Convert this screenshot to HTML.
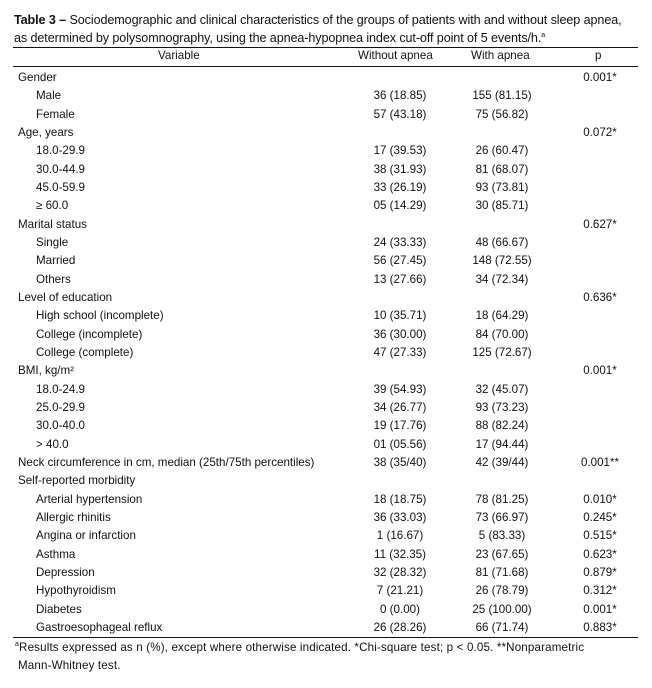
<!DOCTYPE html>
<html><head><meta charset="utf-8"><style>
body{margin:0;background:#fff;width:652px;height:688px;position:relative;font-family:"Liberation Sans",sans-serif;color:#111;overflow:hidden}
.t{position:absolute;left:14px;font-size:12.6px;white-space:nowrap;letter-spacing:-0.1px}
.rule{position:absolute;left:13px;width:625px;height:1.3px;background:#111}
table{position:absolute;left:13px;top:69px;width:625px;border-collapse:collapse;font-size:11.6px;table-layout:fixed}
td{height:18.33px;padding:0;white-space:nowrap;line-height:18px;overflow:visible}
td.a{padding-left:5px}td.b{padding-left:23px}
td.c1{text-align:center}
td.c2{text-align:center}
td.c3{text-align:center;padding-left:13px}
.h{position:absolute;top:49px;font-size:11.6px}
.f{position:absolute;left:18px;font-size:11.6px;white-space:nowrap;letter-spacing:0.15px}
</style></head><body>
<div class="t" style="top:13px"><b>Table 3 –</b> Sociodemographic and clinical characteristics of the groups of patients with and without sleep apnea,</div>
<div class="t" style="top:31px">as determined by polysomnography, using the apnea-hypopnea index cut-off point of 5 events/h.<sup style="font-size:7px">a</sup></div>
<div class="rule" style="top:47px"></div>
<div class="h" style="left:158px">Variable</div>
<div class="h" style="left:358px">Without apnea</div>
<div class="h" style="left:471px">With apnea</div>
<div class="h" style="left:595px">p</div>
<div class="rule" style="top:66px;height:1px"></div>
<table>
<colgroup><col style="width:332px"><col style="width:110px"><col style="width:94px"><col style="width:89px"></colgroup>
<tr><td class="a">Gender</td><td class="c1"></td><td class="c2"></td><td class="c3">0.001*</td></tr>
<tr><td class="b">Male</td><td class="c1">36 (18.85)</td><td class="c2">155 (81.15)</td><td class="c3"></td></tr>
<tr><td class="b">Female</td><td class="c1">57 (43.18)</td><td class="c2">75 (56.82)</td><td class="c3"></td></tr>
<tr><td class="a">Age, years</td><td class="c1"></td><td class="c2"></td><td class="c3">0.072*</td></tr>
<tr><td class="b">18.0-29.9</td><td class="c1">17 (39.53)</td><td class="c2">26 (60.47)</td><td class="c3"></td></tr>
<tr><td class="b">30.0-44.9</td><td class="c1">38 (31.93)</td><td class="c2">81 (68.07)</td><td class="c3"></td></tr>
<tr><td class="b">45.0-59.9</td><td class="c1">33 (26.19)</td><td class="c2">93 (73.81)</td><td class="c3"></td></tr>
<tr><td class="b">≥ 60.0</td><td class="c1">05 (14.29)</td><td class="c2">30 (85.71)</td><td class="c3"></td></tr>
<tr><td class="a">Marital status</td><td class="c1"></td><td class="c2"></td><td class="c3">0.627*</td></tr>
<tr><td class="b">Single</td><td class="c1">24 (33.33)</td><td class="c2">48 (66.67)</td><td class="c3"></td></tr>
<tr><td class="b">Married</td><td class="c1">56 (27.45)</td><td class="c2">148 (72.55)</td><td class="c3"></td></tr>
<tr><td class="b">Others</td><td class="c1">13 (27.66)</td><td class="c2">34 (72.34)</td><td class="c3"></td></tr>
<tr><td class="a">Level of education</td><td class="c1"></td><td class="c2"></td><td class="c3">0.636*</td></tr>
<tr><td class="b">High school (incomplete)</td><td class="c1">10 (35.71)</td><td class="c2">18 (64.29)</td><td class="c3"></td></tr>
<tr><td class="b">College (incomplete)</td><td class="c1">36 (30.00)</td><td class="c2">84 (70.00)</td><td class="c3"></td></tr>
<tr><td class="b">College (complete)</td><td class="c1">47 (27.33)</td><td class="c2">125 (72.67)</td><td class="c3"></td></tr>
<tr><td class="a">BMI, kg/m²</td><td class="c1"></td><td class="c2"></td><td class="c3">0.001*</td></tr>
<tr><td class="b">18.0-24.9</td><td class="c1">39 (54.93)</td><td class="c2">32 (45.07)</td><td class="c3"></td></tr>
<tr><td class="b">25.0-29.9</td><td class="c1">34 (26.77)</td><td class="c2">93 (73.23)</td><td class="c3"></td></tr>
<tr><td class="b">30.0-40.0</td><td class="c1">19 (17.76)</td><td class="c2">88 (82.24)</td><td class="c3"></td></tr>
<tr><td class="b">&gt; 40.0</td><td class="c1">01 (05.56)</td><td class="c2">17 (94.44)</td><td class="c3"></td></tr>
<tr><td class="a">Neck circumference in cm, median (25th/75th percentiles)</td><td class="c1">38 (35/40)</td><td class="c2">42 (39/44)</td><td class="c3">0.001**</td></tr>
<tr><td class="a">Self-reported morbidity</td><td class="c1"></td><td class="c2"></td><td class="c3"></td></tr>
<tr><td class="b">Arterial hypertension</td><td class="c1">18 (18.75)</td><td class="c2">78 (81.25)</td><td class="c3">0.010*</td></tr>
<tr><td class="b">Allergic rhinitis</td><td class="c1">36 (33.03)</td><td class="c2">73 (66.97)</td><td class="c3">0.245*</td></tr>
<tr><td class="b">Angina or infarction</td><td class="c1">1 (16.67)</td><td class="c2">5 (83.33)</td><td class="c3">0.515*</td></tr>
<tr><td class="b">Asthma</td><td class="c1">11 (32.35)</td><td class="c2">23 (67.65)</td><td class="c3">0.623*</td></tr>
<tr><td class="b">Depression</td><td class="c1">32 (28.32)</td><td class="c2">81 (71.68)</td><td class="c3">0.879*</td></tr>
<tr><td class="b">Hypothyroidism</td><td class="c1">7 (21.21)</td><td class="c2">26 (78.79)</td><td class="c3">0.312*</td></tr>
<tr><td class="b">Diabetes</td><td class="c1">0 (0.00)</td><td class="c2">25 (100.00)</td><td class="c3">0.001*</td></tr>
<tr><td class="b">Gastroesophageal reflux</td><td class="c1">26 (28.26)</td><td class="c2">66 (71.74)</td><td class="c3">0.883*</td></tr>
</table>
<div class="rule" style="top:637px"></div>
<div class="f" style="top:641px;left:15px"><sup style="font-size:7px">a</sup>Results expressed as n (%), except where otherwise indicated. *Chi-square test; p &lt; 0.05. **Nonparametric</div>
<div class="f" style="top:659px">Mann-Whitney test.</div>
</body></html>
